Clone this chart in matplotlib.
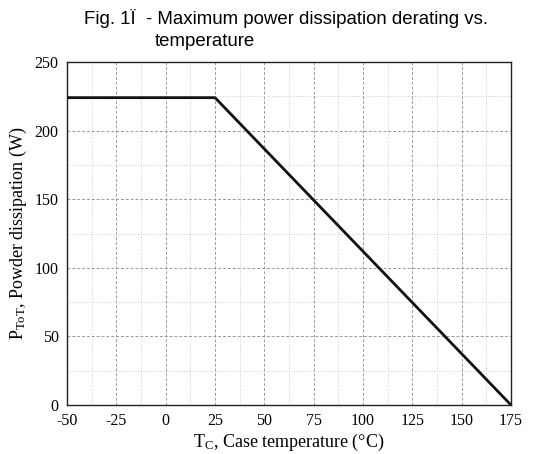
import matplotlib.pyplot as plt
from matplotlib.ticker import MultipleLocator

# derating curve
TEMP = [-50, 25, 175]
POWER = [224, 224, 0]

X_TICKS = [-50, -25, 0, 25, 50, 75, 100, 125, 150, 175]
Y_TICKS = [0, 50, 100, 150, 200, 250]

plt.rcParams["font.family"] = ["Liberation Serif", "DejaVu Serif"]
plt.rcParams["axes.unicode_minus"] = False
plt.rcParams["mathtext.fontset"] = "custom"
plt.rcParams["mathtext.rm"] = "Liberation Serif"
plt.rcParams["mathtext.it"] = "Liberation Serif"

fig = plt.figure(figsize=(5.39, 4.54), dpi=100)
ax = fig.add_axes([67 / 539, 1 - 405 / 454, 444 / 539, 343 / 454])

ax.plot(TEMP, POWER, color="#111111", linewidth=2.0, solid_capstyle="butt", zorder=3)

ax.set_xlim(-50, 175)
ax.set_ylim(0, 250)
ax.set_xticks(X_TICKS)
ax.set_yticks(Y_TICKS)
ax.xaxis.set_minor_locator(MultipleLocator(12.5))
ax.yaxis.set_minor_locator(MultipleLocator(25))
ax.grid(True, which="major", color="#9a9a9a", linestyle=(0, (3, 2)), linewidth=0.7)
ax.grid(True, which="minor", color="#d0d0d0", linestyle=(0, (1, 1.5)), linewidth=0.7)
ax.tick_params(which="both", length=0, labelsize=11.5, pad=6)
for spine in ax.spines.values():
    spine.set_linewidth(1.0)
    spine.set_color("#222222")

ax.set_xlabel("T$_\\mathrm{C}$, Case temperature (°C)", fontsize=13, labelpad=2)
ax.set_ylabel("P$_\\mathrm{ToT}$, Powder dissipation (W)", fontsize=13, labelpad=4)

fig.text(84 / 539, 1 - 18 / 454, "Fig. 1Ï  - Maximum power dissipation derating vs.",
         ha="left", va="center", fontsize=13.4, family="Liberation Sans")
fig.text(155 / 539, 1 - 41 / 454, "temperature",
         ha="left", va="center", fontsize=13.4, family="Liberation Sans")

fig.savefig("out.png", dpi=100)
